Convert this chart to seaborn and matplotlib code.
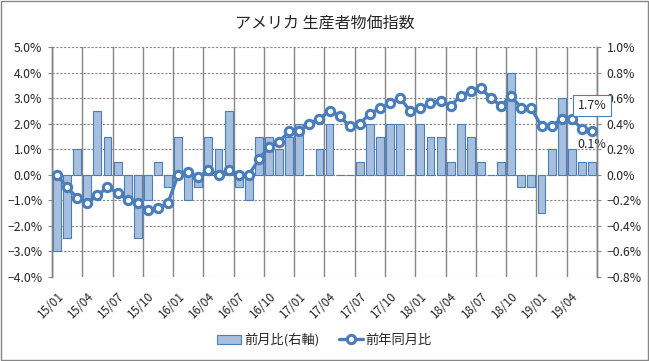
import numpy as np
import pandas as pd
import matplotlib
matplotlib.use("Agg")
import matplotlib.pyplot as plt
from matplotlib.lines import Line2D
from matplotlib.patches import Patch, Rectangle
from matplotlib.ticker import PercentFormatter
import seaborn as sns

sns.set_style("white")
plt.rcParams["font.family"] = ["Noto Sans CJK JP", "DejaVu Sans"]

TITLE = "アメリカ 生産者物価指数"
BAR_LABEL = "前月比(右軸)"
LINE_LABEL = "前年同月比"

# 2015/01 - 2019/06
months = [f"{y:02d}/{m:02d}" for y in range(15, 20) for m in range(1, 13)][:54]

# 前月比 (%), right axis
mom = [-0.6, -0.5, 0.2, -0.2, 0.5, 0.3, 0.1, -0.2, -0.5, -0.2, 0.1, -0.1,
       0.3, -0.2, -0.1, 0.3, 0.2, 0.5, -0.1, -0.2, 0.3, 0.3, 0.2, 0.3,
       0.4, 0.0, 0.2, 0.4, 0.0, 0.0, 0.1, 0.4, 0.3, 0.4, 0.4, 0.0,
       0.4, 0.3, 0.3, 0.1, 0.4, 0.3, 0.1, 0.0, 0.1, 0.8, -0.1, -0.1,
       -0.3, 0.2, 0.6, 0.2, 0.1, 0.1]

# 前年同月比 (%), left axis
yoy = [0.0, -0.5, -0.9, -1.1, -0.8, -0.5, -0.7, -1.0, -1.1, -1.4, -1.3, -1.1,
       0.0, 0.1, -0.1, 0.2, 0.0, 0.2, 0.0, 0.0, 0.6, 1.1, 1.3, 1.7,
       1.7, 2.0, 2.2, 2.5, 2.3, 1.9, 2.0, 2.4, 2.6, 2.8, 3.0, 2.5,
       2.6, 2.8, 2.9, 2.7, 3.1, 3.3, 3.4, 3.0, 2.7, 3.1, 2.6, 2.6,
       1.9, 1.9, 2.2, 2.2, 1.8, 1.7]

left_ticks = [-4, -3, -2, -1, 0, 1, 2, 3, 4, 5]
right_ticks = [-0.8, -0.6, -0.4, -0.2, 0.0, 0.2, 0.4, 0.6, 0.8, 1.0]

BLUE = "#4A7EBB"
BAR_FILL = "#A7BFDE"
GRID = "#868686"

df = pd.DataFrame({"month": months, "mom": mom, "yoy": yoy})
df["pos"] = np.arange(len(df))

fig = plt.figure(figsize=(6.49, 3.61), dpi=100)
fig.patches.append(Rectangle((0.002, 0.003), 0.996, 0.994, transform=fig.transFigure,
                             fill=False, edgecolor=GRID, linewidth=1))

ax = fig.add_axes([0.0801, 0.2335, 0.8398, 0.6355])

# bars on the right-hand scale
sns.barplot(data=df, x="month", y="mom", ax=ax, color=BAR_FILL, saturation=1,
            edgecolor=BLUE, linewidth=0.8, width=0.78, zorder=2)
ax.set_ylim(-0.8, 1.0)
ax.set_yticks(right_ticks)
ax.yaxis.set_major_formatter(PercentFormatter(decimals=1))
ax.set_xlim(-0.5, len(df) - 0.5)
ax.set_xlabel("")
ax.set_ylabel("")

# x ticks: labels every 3 months, grid lines at the boundaries
ax.set_xticks(df["pos"][::3])
ax.set_xticklabels(df["month"][::3], rotation=45, ha="right", rotation_mode="anchor")
ax.set_xticks(np.arange(-0.5, len(df), 3), minor=True)
ax.tick_params(axis="x", which="major", length=0, pad=9, labelsize=8.5)
ax.tick_params(axis="x", which="minor", length=3, color=GRID, direction="out")
ax.xaxis.grid(True, which="minor", color=GRID, linewidth=1, linestyle="-")
ax.yaxis.grid(True, color=GRID, linewidth=0.8, linestyle=(0, (2, 1.5)))
ax.set_axisbelow(True)

ax.annotate(f"{mom[-1]:.1f}%", (df["pos"].iloc[-1], mom[-1]), xytext=(0, 8),
            textcoords="offset points", ha="center", va="bottom", fontsize=9)

# line on the left-hand scale
ax2 = ax.twinx()
sns.lineplot(data=df, x="pos", y="yoy", ax=ax2, color=BLUE, linewidth=2.4,
             marker="o", markersize=6, markerfacecolor="white",
             markeredgecolor=BLUE, markeredgewidth=2.2, zorder=3)
ax2.set_ylim(-4, 5)
ax2.set_yticks(left_ticks)
ax2.yaxis.set_major_formatter(PercentFormatter(decimals=1))
ax2.set_xlabel("")
ax2.set_ylabel("")

# twinx moves the first axis' ticks to the left, so swap sides here
ax.yaxis.tick_right()
ax2.yaxis.tick_left()
ax.tick_params(axis="y", which="both", left=False, labelleft=False, right=True,
               labelright=True, length=3, color=GRID, pad=4, labelsize=8.8)
ax2.tick_params(axis="y", which="both", right=False, labelright=False, left=True,
                labelleft=True, length=3, color=GRID, pad=4, labelsize=8.8)

ax2.annotate(f"{yoy[-1]:.1f}%", (df["pos"].iloc[-1], yoy[-1]), xytext=(0, 14),
             textcoords="offset points", ha="center", va="bottom", fontsize=9,
             bbox=dict(boxstyle="square,pad=0.35", fc="white", ec=BLUE, lw=0.8))

for a in (ax, ax2):
    for side in ("top", "bottom"):
        a.spines[side].set_visible(False)
    for side in ("left", "right"):
        a.spines[side].set_color(GRID)
        a.spines[side].set_linewidth(1)

fig.suptitle(TITLE, y=0.96, fontsize=11.5)

handles = [
    Patch(facecolor=BAR_FILL, edgecolor=BLUE, linewidth=0.8),
    Line2D([], [], color=BLUE, linewidth=2.4, marker="o", markersize=6,
           markerfacecolor="white", markeredgecolor=BLUE, markeredgewidth=2.2),
]
fig.legend(handles, [BAR_LABEL, LINE_LABEL], loc="center", bbox_to_anchor=(0.5, 0.058),
           ncol=2, frameon=False, fontsize=9.5, handlelength=1.8, handletextpad=0.2,
           columnspacing=1.5)

fig.savefig("out.png", dpi=100)
